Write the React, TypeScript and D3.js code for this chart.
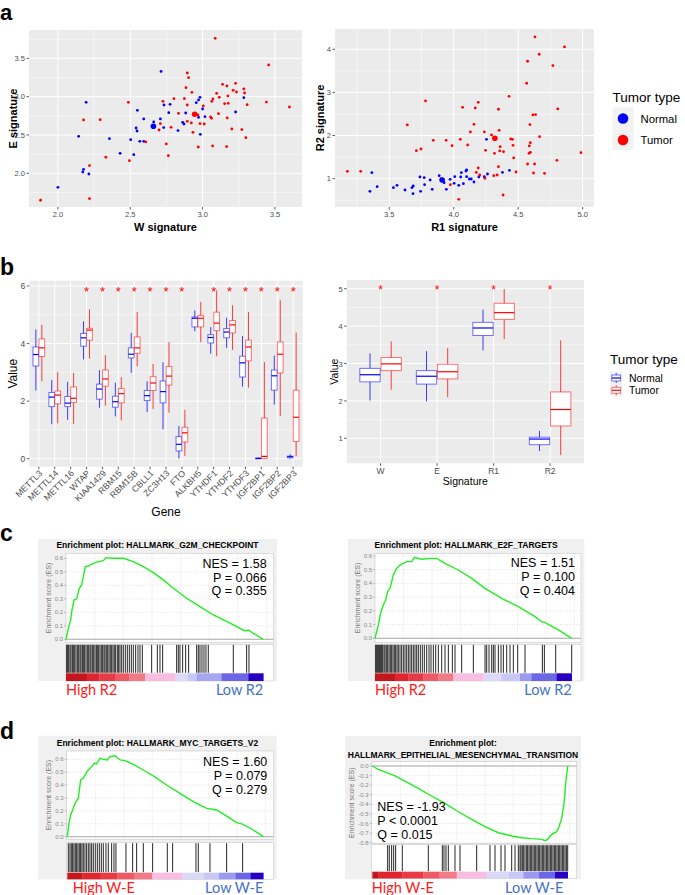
import React from 'react';
import * as d3 from 'd3';

const FONT = "'Liberation Sans', Arial, Helvetica, sans-serif";
const BLUE = '#0000ff';
const RED = '#ff0000';

// ---------------- Panel a : scatter data ----------------
const wNormal = [2.00,2.195,2.143,2.177,2.172,2.214,2.356,2.430,2.503,2.524,2.540,2.549,2.547,2.566,2.593,2.593,2.662,2.708,2.713,2.731,2.733,2.766,2.775,2.830,2.862,2.871,2.883,2.956,2.972,2.982,2.972,3.000,3.016,2.984,3.285,3.228];
const eNormal = [1.817,2.926,2.483,2.052,2.017,1.991,2.452,2.261,2.439,2.243,2.591,2.822,2.552,2.417,2.417,2.709,2.670,2.709,3.330,2.596,2.891,2.791,2.900,2.557,2.665,2.643,2.787,2.922,2.957,2.991,2.730,2.839,2.739,2.509,2.987,2.800];
const wTumor = [1.880,2.177,2.218,2.218,2.292,2.331,2.487,2.494,2.607,2.699,2.708,2.726,2.749,2.763,2.782,2.802,2.834,2.874,2.885,2.894,2.903,2.894,2.894,2.922,2.926,2.933,2.968,2.970,2.982,3.005,3.011,3.055,3.062,3.064,3.071,3.069,3.087,3.097,3.110,3.115,3.138,3.152,3.166,3.168,3.170,3.175,3.177,3.202,3.211,3.228,3.234,3.271,3.285,3.290,3.299,3.308,3.441,3.457,3.600];
const eTumor = [1.648,2.696,2.100,1.670,2.700,2.209,2.926,2.165,2.409,2.565,2.648,2.939,2.383,2.230,2.600,2.974,2.783,2.974,3.117,3.309,3.248,2.891,2.678,2.657,3.057,2.535,2.761,2.343,2.648,2.878,2.643,2.735,2.717,2.939,2.970,2.357,3.761,3.043,2.778,2.991,3.161,2.909,2.348,3.139,2.722,3.009,2.913,2.578,3.083,3.174,3.061,2.570,3.100,3.048,2.465,2.896,2.930,3.413,2.865];
const meanW = [2.660, 2.945];
const meanE = [2.613, 2.770];

const r1Normal = [3.350,3.365,3.406,3.532,3.560,3.622,3.676,3.686,3.684,3.738,3.743,3.771,3.774,3.817,3.833,3.887,3.902,3.925,3.943,3.972,4.003,4.008,4.039,4.054,4.059,4.075,4.095,4.100,4.100,4.121,4.136,4.157,4.195,4.237,4.262,4.254,4.378,4.432];
const r2Normal = [0.706,1.139,0.814,0.791,0.845,0.737,0.791,0.830,0.652,1.039,0.706,1.023,0.861,0.969,0.753,1.070,0.992,0.907,0.753,0.985,0.892,1.046,0.845,1.039,1.139,0.884,1.178,1.201,1.046,0.992,0.992,0.923,1.039,1.046,1.108,1.913,1.147,1.193];
const r1Tumor = [3.175,3.278,3.640,3.710,3.746,3.781,3.841,3.941,3.987,3.974,4.039,4.051,4.069,4.108,4.129,4.157,4.167,4.175,4.190,4.190,4.201,4.237,4.242,4.247,4.293,4.316,4.311,4.337,4.347,4.347,4.352,4.360,4.357,4.386,4.383,4.429,4.442,4.455,4.460,4.465,4.483,4.566,4.573,4.573,4.586,4.584,4.594,4.591,4.594,4.614,4.635,4.619,4.627,4.630,4.663,4.666,4.704,4.769,4.800,4.807,4.859,4.987];
const r2Tumor = [1.170,1.170,2.245,1.650,1.688,2.802,1.889,1.889,1.766,0.861,0.520,1.913,2.655,1.781,2.083,2.261,2.640,1.147,2.771,1.247,1.085,2.083,1.008,1.657,2.013,1.588,1.070,1.085,2.609,1.278,2.121,1.742,1.642,1.626,0.621,2.910,1.920,1.913,1.773,1.480,1.155,3.212,3.722,1.340,1.758,1.588,1.611,2.253,1.835,2.477,2.485,1.131,1.340,4.287,3.885,1.974,1.124,3.622,1.425,2.616,4.055,1.603];
const meanR1 = [3.910, 4.319];
const meanR2 = [0.969, 1.936];

// ---------------- Panel b : box data [lower, q1, median, q3, upper] ----------------
const genes = ['METTL3','METTL14','METTL16','WTAP','KIAA1429','RBM15','RBM15B','CBLL1','ZC3H13','FTO','ALKBH5','YTHDF1','YTHDF2','YTHDF3','IGF2BP1','IGF2BP2','IGF2BP3'];
const geneNormal = [
  [2.37,3.22,3.62,3.88,4.49],[1.20,1.81,2.14,2.30,2.73],[1.35,1.81,1.93,2.16,2.67],[3.45,3.91,4.20,4.35,4.77],
  [1.77,2.07,2.42,2.59,3.08],[1.47,1.79,1.98,2.17,2.64],[2.98,3.50,3.63,3.85,4.37],[1.62,2.02,2.19,2.37,2.69],
  [1.02,1.94,2.33,2.70,3.35],[0.01,0.27,0.50,0.77,1.14],[4.43,4.58,4.88,4.92,5.15],[3.65,4.02,4.21,4.31,4.57],
  [3.85,4.20,4.40,4.52,4.90],[2.51,2.84,3.33,3.56,4.26],[0,0,0.01,0.02,0.03],[1.88,2.38,2.88,3.08,3.58],[0,0.03,0.07,0.09,0.15]
];
const geneTumor = [
  [2.69,3.55,3.85,4.16,4.65],[1.23,1.91,2.21,2.35,3.01],[1.21,1.95,2.10,2.49,2.98],[3.48,4.12,4.47,4.53,5.19],
  [1.84,2.52,2.77,3.08,3.60],[1.33,1.94,2.26,2.44,2.83],[3.21,3.66,3.85,4.23,5.10],[1.73,2.37,2.63,2.85,3.29],
  [1.60,2.56,2.87,3.20,4.05],[0.10,0.58,0.90,1.09,1.70],[4.05,4.58,4.88,4.98,5.45],[3.56,4.45,4.71,5.09,5.85],
  [3.78,4.37,4.65,4.80,5.33],[2.47,3.40,3.88,4.12,5.10],[0,0,0.08,1.41,3.36],[1.48,2.98,3.63,4.06,5.51],[0.09,0.60,1.44,2.38,4.38]
];
const geneSignificant = [false,false,false,true,true,true,true,true,true,true,false,true,true,true,true,true,true];
const geneStarValue = 5.85;

const signatures = ['W','E','R1','R2'];
const sigNormal = [[2.01,2.51,2.70,2.87,3.27],[1.99,2.45,2.66,2.81,3.33],[3.35,3.75,3.95,4.10,4.44],[0.66,0.83,0.98,1.03,1.20]];
const sigTumor = [[2.30,2.81,2.99,3.16,3.59],[2.10,2.59,2.78,2.98,3.41],[3.65,4.18,4.36,4.61,4.99],[0.55,1.33,1.77,2.24,3.62]];
const sigSignificant = [true,true,true,true];
const sigStarValue = 5.0;

// ---------------- Panels c, d : GSEA data ----------------
const esG2M = [[0,0],[2,0.02],[7,0.081],[14,0.143],[18,0.217],[24,0.291],[32,0.30],[40,0.378],[47,0.402],[52,0.464],[58,0.538],[67,0.543],[82,0.563],[97,0.575],[112,0.583],[120,0.605],[142,0.600],[172,0.600],[202,0.575],[232,0.538],[262,0.494],[292,0.440],[322,0.378],[362,0.304],[402,0.242],[442,0.180],[492,0.119],[537,0.062],[547,0.069],[562,0.044],[592,0]];
const hitsG2M = [2,5,8,12,15,19,22,26,30,34,38,42,45,49,52,56,60,64,68,72,75,79,83,87,91,94,98,102,106,110,114,117,121,125,129,133,137,141,145,149,154,158,162,167,172,178,184,190,196,202,209,216,222,229,257,274,282,290,332,337,342,350,359,368,392,397,402,408,414,420,427,502,542,549];
const barG2M: [number,string][] = [[0,'#c4161c'],[62,'#e02530'],[100,'#e83a44'],[147,'#ee5a64'],[190,'#f27a86'],[237,'#f7bee0'],[327,'#dcd8f8'],[365,'#c8c8f6'],[392,'#a6a6f2'],[467,'#6a66e6'],[547,'#2800c4']];

const esE2F = [[0,0],[5,0.049],[10,0.097],[18,0.194],[25,0.243],[32,0.279],[38,0.340],[45,0.364],[55,0.462],[65,0.510],[75,0.534],[95,0.559],[110,0.559],[118,0.590],[140,0.576],[170,0.583],[185,0.583],[210,0.547],[250,0.498],[290,0.437],[330,0.364],[380,0.291],[430,0.231],[480,0.158],[500,0.121],[510,0.114],[550,0.061],[590,0]];
const hitsE2F = [2,5,8,11,14,17,20,23,27,30,34,38,42,46,50,54,58,62,66,70,75,80,85,90,95,100,105,110,115,120,125,130,136,142,148,155,162,168,175,182,190,200,210,220,232,240,260,295,330,335,342,350,355,360,370,378,385,395,405,415,428,450,502,508,542,590];
const barE2F: [number,string][] = [[0,'#c4161c'],[60,'#e02530'],[100,'#e83a44'],[145,'#ee5a64'],[190,'#f27a86'],[235,'#f7bee0'],[325,'#dcd8f8'],[380,'#c8c8f6'],[435,'#9a9af0'],[470,'#6a66e6'],[545,'#2800c4']];

const esMYC = [[0,0],[5,0.103],[10,0.168],[16,0.207],[20,0.238],[26,0.272],[33,0.297],[40,0.440],[48,0.453],[56,0.491],[63,0.517],[73,0.543],[81,0.569],[88,0.564],[98,0.608],[108,0.600],[120,0.595],[128,0.621],[143,0.628],[158,0.595],[173,0.590],[198,0.561],[228,0.517],[258,0.471],[298,0.401],[338,0.336],[378,0.272],[418,0.220],[448,0.207],[478,0.160],[508,0.109],[526,0.098],[558,0.052],[588,0]];
const hitsMYC = [3,8,12,16,20,24,28,32,36,40,44,48,53,58,63,68,73,78,84,90,96,102,108,116,123,133,140,146,176,196,208,228,256,300,316,386,393,428,478,526];
const barMYC: [number,string][] = [[0,'#c4161c'],[45,'#e02530'],[100,'#e83a44'],[150,'#ee5a64'],[200,'#f27a86'],[255,'#f7bee0'],[345,'#dcd8f8'],[410,'#c8c8f6'],[455,'#9a9af0'],[505,'#6a66e6'],[550,'#2800c4']];

const esEMT = [[0,0],[18,-0.035],[43,-0.070],[68,-0.104],[98,-0.157],[138,-0.233],[178,-0.313],[218,-0.390],[258,-0.477],[298,-0.557],[338,-0.633],[378,-0.696],[418,-0.730],[448,-0.748],[478,-0.758],[508,-0.765],[518,-0.779],[526,-0.765],[533,-0.730],[543,-0.703],[553,-0.685],[560,-0.633],[568,-0.546],[575,-0.390],[580,-0.181],[586,0]];
const hitsEMT = [46,51,58,64,70,90,168,210,215,221,228,248,263,313,353,368,386,398,418,428,438,443,446,450,454,458,463,466,470,474,478,482,486,490,494,498,502,506,510,514,518,522,526,530,534,538,542,546,550,554,558,562,566,570,574,578,582,586];
const barEMT: [number,string][] = [[0,'#c4161c'],[18,'#e02530'],[90,'#e83a44'],[153,'#ee5a64'],[200,'#f27a86'],[253,'#f7bee0'],[343,'#dcd8f8'],[410,'#c8c8f6'],[453,'#9a9af0'],[500,'#6a66e6'],[548,'#2800c4']];

// ---------------- components ----------------
function Scatter(p: any) {
  const [x0, y0, x1, y1] = p.box;
  const xs = d3.scaleLinear().domain(p.xDomain).range([x0, x1]);
  const ys = d3.scaleLinear().domain(p.yDomain).range([y1, y0]);
  return (
    <g fontFamily={FONT}>
      <rect x={x0} y={y0} width={x1 - x0} height={y1 - y0} fill="#ebebeb" />
      {p.xMinor.map((v: number, i: number) => <line key={'xm' + i} x1={xs(v)} x2={xs(v)} y1={y0} y2={y1} stroke="#fff" strokeWidth={0.5} />)}
      {p.yMinor.map((v: number, i: number) => <line key={'ym' + i} y1={ys(v)} y2={ys(v)} x1={x0} x2={x1} stroke="#fff" strokeWidth={0.5} />)}
      {p.xMajor.map((v: number, i: number) => <line key={'xM' + i} x1={xs(v)} x2={xs(v)} y1={y0} y2={y1} stroke="#fff" strokeWidth={1} />)}
      {p.yMajor.map((v: number, i: number) => <line key={'yM' + i} y1={ys(v)} y2={ys(v)} x1={x0} x2={x1} stroke="#fff" strokeWidth={1} />)}
      {p.nx.map((v: number, i: number) => <circle key={'n' + i} cx={xs(v)} cy={ys(p.ny[i])} r={1.4} fill={BLUE} />)}
      {p.tx.map((v: number, i: number) => <circle key={'t' + i} cx={xs(v)} cy={ys(p.ty[i])} r={1.4} fill={RED} />)}
      <circle cx={xs(p.mx[0])} cy={ys(p.my[0])} r={2.8} fill={BLUE} />
      <circle cx={xs(p.mx[1])} cy={ys(p.my[1])} r={2.8} fill={RED} />
      {p.xMajor.map((v: number, i: number) => (
        <g key={'xt' + i}>
          <line x1={xs(v)} x2={xs(v)} y1={y1} y2={y1 + 2.5} stroke="#333" strokeWidth={0.8} />
          <text x={xs(v)} y={y1 + 10} fontSize={7.5} fill="#4d4d4d" textAnchor="middle">{p.xFmt(v)}</text>
        </g>
      ))}
      {p.yMajor.map((v: number, i: number) => (
        <g key={'yt' + i}>
          <line x1={x0 - 2.5} x2={x0} y1={ys(v)} y2={ys(v)} stroke="#333" strokeWidth={0.8} />
          <text x={x0 - 4} y={ys(v) + 2.7} fontSize={7.5} fill="#4d4d4d" textAnchor="end">{p.yFmt(v)}</text>
        </g>
      ))}
      <text x={(x0 + x1) / 2} y={y1 + 24} fontSize={11} fontWeight="bold" textAnchor="middle">{p.xTitle}</text>
      <text transform={`translate(${p.yTitleX},${(y0 + y1) / 2}) rotate(-90)`} fontSize={11} fontWeight="bold" textAnchor="middle">{p.yTitle}</text>
    </g>
  );
}

function Box({ cx, hw, s, ys, color, key2 }: any) {
  const [lo, q1, md, q3, hi] = s;
  return (
    <g key={key2}>
      <line x1={cx} x2={cx} y1={ys(hi)} y2={ys(q3)} stroke={color} strokeOpacity={0.75} strokeWidth={1} />
      <line x1={cx} x2={cx} y1={ys(q1)} y2={ys(lo)} stroke={color} strokeOpacity={0.75} strokeWidth={1} />
      <rect x={cx - hw} y={ys(q3)} width={2 * hw} height={Math.max(0.6, ys(q1) - ys(q3))} fill="#fff" stroke={color} strokeOpacity={0.55} strokeWidth={1} />
      <line x1={cx - hw} x2={cx + hw} y1={ys(md)} y2={ys(md)} stroke={color} strokeWidth={1.2} />
    </g>
  );
}

function BoxPanel(p: any) {
  const [x0, y0, x1, y1] = p.box;
  const n = p.cats.length;
  const xs = d3.scaleLinear().domain([0.4, n + 0.6]).range([x0, x1]);
  const ys = d3.scaleLinear().domain(p.yDomain).range([y1, y0]);
  const unit = xs(2) - xs(1);
  const hw = unit * 0.18;
  const off = unit * 0.1875;
  return (
    <g fontFamily={FONT}>
      <rect x={x0} y={y0} width={x1 - x0} height={y1 - y0} fill="#ebebeb" />
      {p.yMinor.map((v: number, i: number) => <line key={'ym' + i} y1={ys(v)} y2={ys(v)} x1={x0} x2={x1} stroke="#fff" strokeWidth={0.5} />)}
      {p.yMajor.map((v: number, i: number) => <line key={'yM' + i} y1={ys(v)} y2={ys(v)} x1={x0} x2={x1} stroke="#fff" strokeWidth={1} />)}
      {p.cats.map((c: string, i: number) => <line key={'xM' + i} x1={xs(i + 1)} x2={xs(i + 1)} y1={y0} y2={y1} stroke="#fff" strokeWidth={1} />)}
      {p.cats.map((c: string, i: number) => (
        <g key={'b' + i}>
          {Box({ cx: xs(i + 1) - off, hw, s: p.normal[i], ys, color: BLUE, key2: 'n' })}
          {Box({ cx: xs(i + 1) + off, hw, s: p.tumor[i], ys, color: RED, key2: 't' })}
          {p.sig[i] ? <text x={xs(i + 1)} y={ys(p.starValue) + 5.2} fontSize={p.starSize} fill={RED} textAnchor="middle">*</text> : null}
        </g>
      ))}
      {p.cats.map((c: string, i: number) => (
        <g key={'xt' + i}>
          <line x1={xs(i + 1)} x2={xs(i + 1)} y1={y1} y2={y1 + 2.5} stroke="#333" strokeWidth={0.8} />
          {p.rotate ? (
            <text transform={`translate(${xs(i + 1) + 2},${y1 + 5}) rotate(-45)`} dy="0.35em" fontSize={p.xFont} fill="#4d4d4d" textAnchor="end">{c}</text>
          ) : (
            <text x={xs(i + 1)} y={y1 + 10.5} fontSize={p.xFont} fill="#4d4d4d" textAnchor="middle">{c}</text>
          )}
        </g>
      ))}
      {p.yMajor.map((v: number, i: number) => (
        <g key={'yt' + i}>
          <line x1={x0 - 2.5} x2={x0} y1={ys(v)} y2={ys(v)} stroke="#333" strokeWidth={0.8} />
          <text x={x0 - 4} y={ys(v) + 3} fontSize={p.yFont} fill="#4d4d4d" textAnchor="end">{String(v)}</text>
        </g>
      ))}
      <text x={(x0 + x1) / 2} y={p.xTitleY} fontSize={p.titleSize} textAnchor="middle">{p.xTitle}</text>
      <text transform={`translate(${p.yTitleX},${(y0 + y1) / 2}) rotate(-90)`} fontSize={p.titleSize} textAnchor="middle">{p.yTitle}</text>
    </g>
  );
}

function Gsea(p: any) {
  const [bx0, by0, bx1, by1] = p.box;
  const xs = d3.scaleLinear().domain([0, p.rankMax]).range([p.cx0, p.cx1]);
  const ys = d3.scaleLinear().domain(p.esDomain).range(p.esRange);
  const line = d3.line<number[]>().x(d => xs(d[0])).y(d => ys(d[1]));
  const grid = d3.range(p.gridStep, p.rankMax + p.gridStep * 0.6, p.gridStep);
  const segs = p.bar.map((b: [number, string], i: number) => [b[0], i + 1 < p.bar.length ? p.bar[i + 1][0] : p.rankMax, b[1]]);
  return (
    <g fontFamily={FONT}>
      <rect x={bx0} y={by0} width={bx1 - bx0} height={by1 - by0} fill="#f0f0f0" />
      {p.titles.map((t: string, i: number) => (
        <text key={'ti' + i} x={(bx0 + bx1) / 2} y={p.titleYs[i]} fontSize={8.5} fontWeight="bold" textAnchor="middle">{t}</text>
      ))}
      <rect x={p.px0} y={p.esTop} width={p.px1 - p.px0} height={p.esBottom - p.esTop} fill="#fff" stroke="#c8c8c8" strokeWidth={0.6} />
      {grid.map((g: number, i: number) => <line key={'g' + i} x1={xs(g)} x2={xs(g)} y1={p.esTop} y2={p.esBottom} stroke="#d8d8d8" strokeWidth={0.6} strokeDasharray="1.2,1.2" />)}
      {p.esTicks.map((t: number, i: number) => (
        <g key={'et' + i}>
          <line x1={p.px0} x2={p.px1} y1={ys(t)} y2={ys(t)} stroke="#d8d8d8" strokeWidth={0.6} strokeDasharray="1.2,1.2" />
          <line x1={p.px0 - 2} x2={p.px0} y1={ys(t)} y2={ys(t)} stroke="#999" strokeWidth={0.6} />
          <text x={p.px0 - 3} y={ys(t) + 2} fontSize={6} fill="#8a8a8a" textAnchor="end">{t.toFixed(1)}</text>
        </g>
      ))}
      <line x1={p.px0} x2={p.px1} y1={ys(0)} y2={ys(0)} stroke="#a8a8a8" strokeWidth={1.1} />
      <path d={line(p.curve) || ''} fill="none" stroke="#1ff01f" strokeWidth={1.4} />
      <text transform={`translate(${p.yTitleX},${(p.esTop + p.esBottom) / 2}) rotate(-90)`} fontSize={7} fill="#777" textAnchor="middle">Enrichment score (ES)</text>
      <rect x={p.px0} y={p.hitsTop} width={p.px1 - p.px0} height={p.barBottom - p.hitsTop} fill="#fff" stroke="#c8c8c8" strokeWidth={0.6} />
      {p.hits.map((h: number, i: number) => <line key={'h' + i} x1={xs(h)} x2={xs(h)} y1={p.hitsTop + 0.5} y2={p.hitsBottom - 0.5} stroke="#000" strokeOpacity={0.85} strokeWidth={1} />)}
      {segs.map((s: any, i: number) => <rect key={'s' + i} x={xs(s[0])} y={p.hitsBottom} width={xs(s[1]) - xs(s[0]) + 0.3} height={p.barBottom - p.hitsBottom} fill={s[2]} />)}
      {p.stats.map((s: string, i: number) => (
        <text key={'st' + i} x={p.statsX} y={p.statsYs[i]} fontSize={12.5} textAnchor={p.statsAnchor}>{s}</text>
      ))}
      <text x={p.hiX} y={p.labelY} fontSize={14.5} fill="#ff1a1a" fontFamily="Lato, 'Open Sans', sans-serif">{p.hi}</text>
      <text x={p.loX} y={p.labelY} fontSize={14.5} fill="#4472c4" textAnchor="end" fontFamily="Lato, 'Open Sans', sans-serif">{p.lo}</text>
    </g>
  );
}

export default function App() {
  const esTicksPos = [0, 0.1, 0.2, 0.3, 0.4, 0.5, 0.6];
  const esTicksNeg = [0, -0.1, -0.2, -0.3, -0.4, -0.5, -0.6, -0.7, -0.8];
  return (
    <svg width={685} height={895} style={{ position: 'absolute', left: 0, top: 0, background: '#fff' }} fontFamily={FONT}>
      <rect x={0} y={0} width={685} height={895} fill="#fff" />
      {/* panel letters */}
      <text x={0} y={20} fontSize={22} fontWeight="bold">a</text>
      <text x={0} y={275} fontSize={23} fontWeight="bold">b</text>
      <text x={0} y={541} fontSize={23} fontWeight="bold">c</text>
      <text x={0} y={739} fontSize={23} fontWeight="bold">d</text>

      <Scatter box={[29, 30, 302, 207]} xDomain={[1.80, 3.687]} yDomain={[1.56, 3.87]}
        xMajor={[2.0, 2.5, 3.0, 3.5]} yMajor={[2.0, 2.5, 3.0, 3.5]} xMinor={[2.25, 2.75, 3.25]} yMinor={[1.75, 2.25, 2.75, 3.25, 3.75]}
        xFmt={(v: number) => v.toFixed(1)} yFmt={(v: number) => v.toFixed(1)}
        nx={wNormal} ny={eNormal} tx={wTumor} ty={eTumor} mx={meanW} my={meanE}
        xTitle="W signature" yTitle="E signature" yTitleX={17} />
      <Scatter box={[335, 29, 594, 207]} xDomain={[3.079, 5.088]} yDomain={[0.343, 4.47]}
        xMajor={[3.5, 4.0, 4.5, 5.0]} yMajor={[1, 2, 3, 4]} xMinor={[3.25, 3.75, 4.25, 4.75]} yMinor={[0.5, 1.5, 2.5, 3.5]}
        xFmt={(v: number) => v.toFixed(1)} yFmt={(v: number) => String(v)}
        nx={r1Normal} ny={r2Normal} tx={r1Tumor} ty={r2Tumor} mx={meanR1} my={meanR2}
        xTitle="R1 signature" yTitle="R2 signature" yTitleX={324} />
      {/* legend a */}
      <g fontFamily={FONT}>
        <text x={612.5} y={102} fontSize={13.5}>Tumor type</text>
        <rect x={612.5} y={107.5} width={21} height={42.5} fill="#f2f2f2" />
        <circle cx={623} cy={118.5} r={5.3} fill={BLUE} />
        <circle cx={623} cy={140} r={5.3} fill={RED} />
        <text x={640.5} y={122.5} fontSize={11.3}>Normal</text>
        <text x={640.5} y={144} fontSize={11.3}>Tumor</text>
      </g>

      <BoxPanel box={[29.3, 280.7, 302.7, 466.7]} cats={genes} yDomain={[-0.278, 6.184]}
        yMajor={[0, 2, 4, 6]} yMinor={[1, 3, 5]} normal={geneNormal} tumor={geneTumor} sig={geneSignificant}
        starValue={geneStarValue} starSize={13} rotate={true} xFont={8.8} yFont={8.5}
        xTitle="Gene" yTitle="Value" xTitleY={516} yTitleX={17} titleSize={12} />
      <BoxPanel box={[346.7, 280, 584, 463.3]} cats={signatures} yDomain={[0.332, 5.233]}
        yMajor={[1, 2, 3, 4, 5]} yMinor={[0.5, 1.5, 2.5, 3.5, 4.5]} normal={sigNormal} tumor={sigTumor} sig={sigSignificant}
        starValue={sigStarValue} starSize={12} rotate={false} xFont={8.5} yFont={7.5}
        xTitle="Signature" yTitle="Value" xTitleY={485} yTitleX={337.5} titleSize={10.5} />
      {/* legend b */}
      <g fontFamily={FONT}>
        <text x={610} y={364} fontSize={13.5}>Tumor type</text>
        <rect x={610} y={371.5} width={12.5} height={25} fill="#f2f2f2" />
        {[[BLUE, 378, 'Normal'], [RED, 390.3, 'Tumor']].map((k: any, i: number) => (
          <g key={'lk' + i}>
            <line x1={616.2} x2={616.2} y1={k[1] - 5} y2={k[1] + 5} stroke={k[0]} strokeOpacity={0.75} />
            <rect x={611.8} y={k[1] - 3} width={8.8} height={6} fill="#fff" stroke={k[0]} strokeOpacity={0.55} />
            <line x1={611.8} x2={620.6} y1={k[1]} y2={k[1]} stroke={k[0]} strokeWidth={1.2} />
            <text x={629} y={k[1] + 3.8} fontSize={10.5}>{k[2]}</text>
          </g>
        ))}
      </g>

      <Gsea box={[38, 539, 277, 681]} titles={['Enrichment plot: HALLMARK_G2M_CHECKPOINT']} titleYs={[548]}
        px0={66} px1={273.3} esTop={553.3} esBottom={642.7} esDomain={[0, 0.6]} esRange={[639.3, 558.3]} esTicks={esTicksPos}
        hitsTop={644.3} hitsBottom={673.3} barBottom={681} cx0={66} cx1={263.3} rankMax={592} gridStep={86}
        curve={esG2M} hits={hitsG2M} bar={barG2M}
        stats={['NES = 1.58', 'P = 0.066', 'Q = 0.355']} statsX={266.7} statsYs={[568, 582, 595]} statsAnchor="end"
        hi="High R2" lo="Low R2" hiX={66} loX={263.3} labelY={695} yTitleX={50.5} />
      <Gsea box={[348, 539, 584.3, 681]} titles={['Enrichment plot: HALLMARK_E2F_TARGETS']} titleYs={[548]}
        px0={375} px1={581} esTop={553.3} esBottom={642.7} esDomain={[0, 0.6]} esRange={[638.3, 556]} esTicks={esTicksPos}
        hitsTop={644.3} hitsBottom={673.3} barBottom={681} cx0={375} cx1={571.7} rankMax={590} gridStep={85.5}
        curve={esE2F} hits={hitsE2F} bar={barE2F}
        stats={['NES = 1.51', 'P = 0.100', 'Q = 0.404']} statsX={575} statsYs={[566.5, 581, 594.5]} statsAnchor="end"
        hi="High R2" lo="Low R2" hiX={375} loX={571.7} labelY={695} yTitleX={360} />
      <Gsea box={[38.3, 735.7, 276.7, 879.3]} titles={['Enrichment plot: HALLMARK_MYC_TARGETS_V2']} titleYs={[745.5]}
        px0={66.7} px1={273.3} esTop={751} esBottom={839.3} esDomain={[0, 0.6]} esRange={[836.7, 759.3]} esTicks={esTicksPos}
        hitsTop={842.7} hitsBottom={872.7} barBottom={879.3} cx0={67.3} cx1={263.3} rankMax={588} gridStep={85}
        curve={esMYC} hits={hitsMYC} bar={barMYC}
        stats={['NES = 1.60', 'P = 0.079', 'Q = 0.279']} statsX={267.3} statsYs={[765.5, 779.8, 793.8]} statsAnchor="end"
        hi="High W-E" lo="Low W-E" hiX={72.7} loX={263.3} labelY={893} yTitleX={50.5} />
      <Gsea box={[345, 736, 581, 879.3]} titles={['Enrichment plot:', 'HALLMARK_EPITHELIAL_MESENCHYMAL_TRANSITION']} titleYs={[745.8, 757.5]}
        px0={371.7} px1={576.7} esTop={761.7} esBottom={843.7} esDomain={[-0.8, 0]} esRange={[842.7, 766]} esTicks={esTicksNeg}
        hitsTop={844.7} hitsBottom={871.7} barBottom={878.5} cx0={372.3} cx1={567.7} rankMax={586} gridStep={84.5}
        curve={esEMT} hits={hitsEMT} bar={barEMT}
        stats={['NES = -1.93', 'P < 0.0001', 'Q = 0.015']} statsX={377.3} statsYs={[811, 824.5, 839]} statsAnchor="start"
        hi="High W-E" lo="Low W-E" hiX={371.7} loX={563.3} labelY={893} yTitleX={354} />
    </svg>
  );
}
